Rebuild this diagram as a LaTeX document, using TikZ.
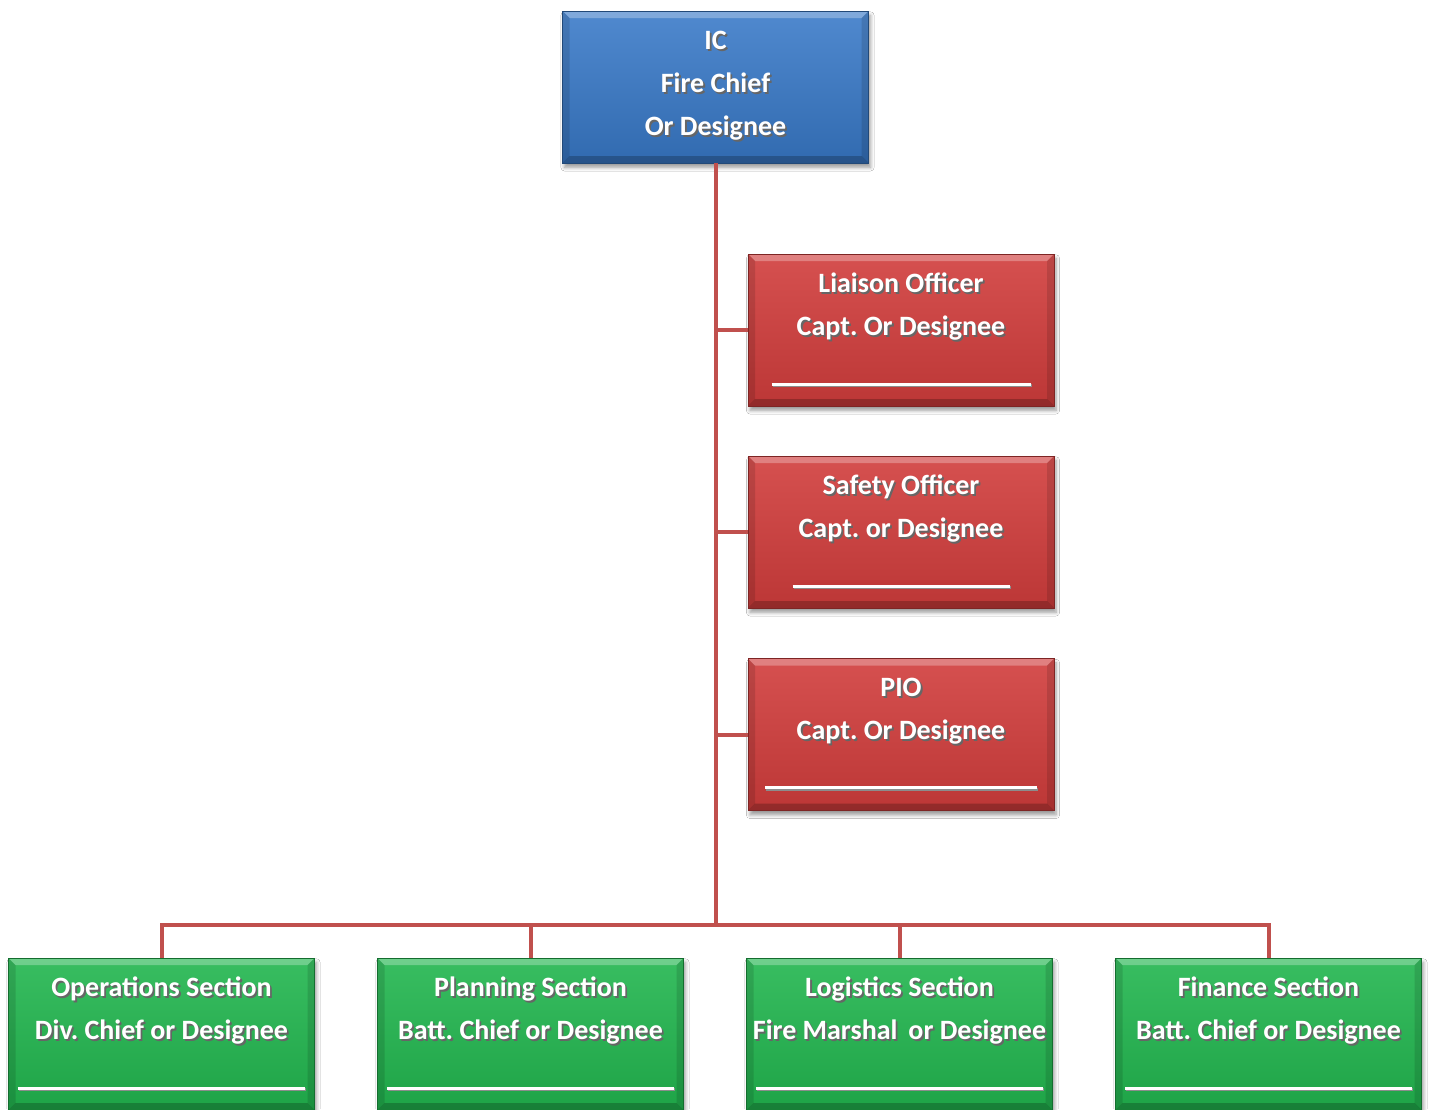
\documentclass[tikz,border=0pt]{standalone}
\usepackage{fontspec}
\setmainfont{Carlito}
\frenchspacing
\usetikzlibrary{shadows.blur}

\definecolor{linkred}{HTML}{C0504D}
\definecolor{icblue}{HTML}{3879C8}
\definecolor{offred}{HTML}{D13D3C}
\definecolor{secgreen}{HTML}{22B64F}

% white lettering with a soft dark drop shadow
\newcommand\shtxt[1]{\leavevmode\rlap{\kern0.9pt\raisebox{-0.9pt}{\textcolor{black!60}{#1}}}#1}
% blank signature line
\newcommand\signline[1]{\leavevmode\rlap{\kern0.6pt\textcolor{black!45}{\rule[-2.3pt]{#1}{1.5pt}}}\rule[-1.5pt]{#1}{1.5pt}}

\tikzset{
  bevel/.style={path picture={
    \fill[white,opacity=0.28] (path picture bounding box.north west) -- (path picture bounding box.north east)
      -- ([xshift=-3.5pt,yshift=-3.5pt]path picture bounding box.north east)
      -- ([xshift=3.5pt,yshift=-3.5pt]path picture bounding box.north west) -- cycle;
    \fill[black,opacity=0.22] (path picture bounding box.south west) -- (path picture bounding box.south east)
      -- ([xshift=-3.5pt,yshift=3.5pt]path picture bounding box.south east)
      -- ([xshift=3.5pt,yshift=3.5pt]path picture bounding box.south west) -- cycle;
    \fill[black,opacity=0.12] (path picture bounding box.north west) -- (path picture bounding box.south west)
      -- ([xshift=3.5pt,yshift=3.5pt]path picture bounding box.south west)
      -- ([xshift=3.5pt,yshift=-3.5pt]path picture bounding box.north west) -- cycle;
    \fill[black,opacity=0.12] (path picture bounding box.north east) -- (path picture bounding box.south east)
      -- ([xshift=-3.5pt,yshift=3.5pt]path picture bounding box.south east)
      -- ([xshift=-3.5pt,yshift=-3.5pt]path picture bounding box.north east) -- cycle;
  }},
  orgbox/.style={rectangle, minimum width=153pt, minimum height=76pt, inner sep=0pt,
    align=center, text=white, font=\fontsize{14}{21.5}\selectfont\bfseries,
    blur shadow={shadow xshift=1pt, shadow yshift=-2.2pt, shadow blur steps=6,
      shadow blur radius=1.8pt, shadow opacity=40},
    bevel},
  icbox/.style={orgbox, top color=icblue!88!white, bottom color=icblue!88!black, draw=icblue!60!black, line width=0.4pt},
  officer/.style={orgbox, top color=offred!90!white, bottom color=offred!90!black, draw=offred!60!black, line width=0.4pt},
  section/.style={orgbox, top color=secgreen!90!white, bottom color=secgreen!90!black, draw=secgreen!60!black, line width=0.4pt},
  link/.style={draw=linkred, line width=2pt}
}

\begin{document}
\begin{tikzpicture}[x=0.5pt, y=-0.5pt]
  \useasboundingbox[fill=white] (0,0) rectangle (1429,1109);

  % incident commander
  \node[icbox] (ic) at (715.5,87) {\shtxt{IC}\\\shtxt{Fire Chief}\\\shtxt{Or Designee}};

  % command staff
  \node[officer] (liaison) at (901,330) {\shtxt{Liaison Officer}\\\shtxt{Capt. Or Designee}\\[2pt]\signline{129.5pt}};
  \node[officer] (safety) at (901,532) {\shtxt{Safety Officer}\\\shtxt{Capt. or Designee}\\[2pt]\signline{108.5pt}};
  \node[officer] (pio) at (901,734.5) {\shtxt{PIO}\\\shtxt{Capt. Or Designee}\\[2pt]\signline{136pt}};

  % general staff sections
  \node[section] (ops) at (161.5,1034) {\shtxt{Operations Section}\\\shtxt{Div. Chief or Designee}\\[2pt]\signline{143.5pt}};
  \node[section] (plan) at (530.5,1034) {\shtxt{Planning Section}\\\shtxt{Batt. Chief or Designee}\\[2pt]\signline{143.5pt}};
  \node[section] (log) at (899.5,1034) {\shtxt{Logistics Section}\\\shtxt{Fire Marshal\ \,or Designee}\\[2pt]\signline{143.5pt}};
  \node[section] (fin) at (1268.5,1034) {\shtxt{Finance Section}\\\shtxt{Batt. Chief or Designee}\\[2pt]\signline{143.5pt}};

  % connectors: trunk, staff branches and section bus
  \coordinate (bus) at (716,925);
  \draw[link] (ic.south -| bus) -- (bus);
  \draw[link] (liaison.west) -- (liaison.west -| bus);
  \draw[link] (safety.west) -- (safety.west -| bus);
  \draw[link] (pio.west) -- (pio.west -| bus);
  \draw[link] (ops.north) |- (bus) -| (fin.north);
  \draw[link] (plan.north) -- (plan.north |- bus);
  \draw[link] (log.north) -- (log.north |- bus);
\end{tikzpicture}
\end{document}
